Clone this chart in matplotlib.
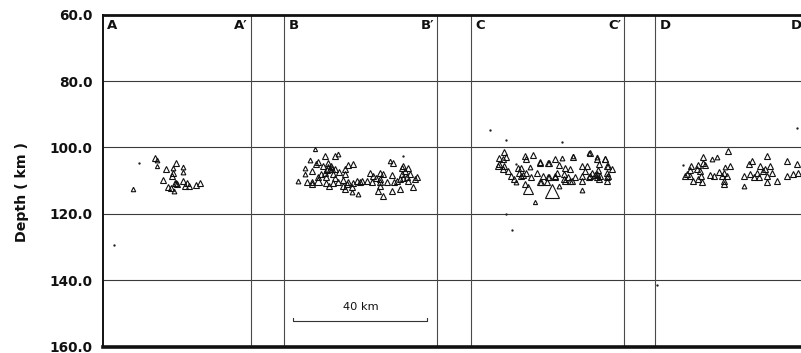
import numpy as np
import matplotlib
matplotlib.use("Agg")
import matplotlib.pyplot as plt

# ---- hypocentres per cross-section: distance along profile (km), depth (km), magnitude
# magnitude < 1 marks events plotted as plain dots
a_dist = [15.5, 16.0, 10.7, 21.7, 16.0, 18.7, 21.0, 23.8, 20.8, 24.0, 20.7, 18.0,
          21.8, 21.5, 22.2, 24.0, 25.0, 24.5, 25.8, 27.8, 29.0, 19.5, 20.2, 21.3,
          9.0, 3.3]
a_depth = [103.1, 103.8, 104.6, 104.6, 105.6, 106.6, 106.3, 105.9, 107.6, 107.3, 108.7, 109.8,
           110.8, 110.6, 111.0, 110.2, 110.8, 111.6, 111.6, 111.3, 110.8, 111.9, 112.2, 113.2,
           112.5, 129.5]
a_mag = [1.8, 1.5, 0.5, 1.6, 1.3, 1.7, 1.5, 1.5, 1.6, 1.5, 1.6, 1.7,
         1.9, 1.7, 1.6, 1.7, 1.6, 1.6, 1.7, 1.7, 1.6, 1.6, 1.7, 1.5,
         1.4, 0.5]

b_dist = [9.3, 12.4, 15.2, 16.2, 7.8, 10.2, 13.2, 9.5, 11.7, 13.2, 13.6, 12.8, 14.2, 15.2,
          19.2, 20.7, 18.2, 6.3, 8.3, 12.2, 14.7, 18.2, 6.3, 10.2, 12.7, 15.2, 17.7,
          4.3, 6.8, 8.3, 10.2, 12.7, 14.7, 16.2, 19.2, 20.7, 21.7, 23.2, 13.4, 17.7,
          20.2, 18.2, 20.2, 8.3, 18.7, 22.2, 29.6, 32.1, 34.6, 38.6, 39.1, 36.6, 33.6,
          28.7, 25.7, 35.6, 31.6, 32.6, 35.6, 35.1, 37.1, 28.7, 29.6, 26.7, 32.1, 35.1,
          37.6, 39.6, 24.7, 26.2, 28.7, 34.6, 35.6, 37.1, 30.8, 32.8, 22.7, 28.7, 28.2,
          14.0, 16.5, 11.0, 27.4, 36.0]
b_depth = [100.6, 102.6, 102.6, 102.1, 103.8, 104.4, 104.6, 105.1, 105.6, 106.1, 106.5, 106.8,
           106.4, 106.6, 105.4, 105.1, 106.4, 106.1, 107.1, 107.6, 108.1, 108.1, 108.1, 109.0,
           109.0, 109.3, 109.8, 110.1, 110.5, 110.5, 110.1, 110.7, 110.7, 110.4, 110.4, 110.7,
           110.1, 110.1, 111.6, 111.6, 112.0, 112.5, 113.5, 111.0, 111.0, 114.0, 114.5, 113.0,
           112.5, 112.0, 109.6, 109.0, 110.1, 110.5, 107.6, 102.6, 104.1, 104.6, 105.6, 106.1,
           106.1, 107.6, 108.1, 108.6, 108.4, 108.1, 108.1, 109.0, 110.1, 110.4, 109.6, 109.6,
           109.3, 110.1, 110.5, 110.5, 110.5, 111.6, 113.0, 105.5, 107.3, 108.0, 109.3, 107.0]
b_mag = [1.3, 1.6, 1.6, 1.5, 1.5, 1.7, 1.8, 1.6, 1.7, 2.2, 2.0, 1.9,
         1.8, 1.7, 1.7, 1.6, 1.7, 1.5, 1.6, 1.7, 1.8, 1.6, 1.5, 1.7,
         1.8, 1.7, 1.6, 1.5, 1.7, 1.6, 2.4, 1.7, 1.8, 1.7, 1.7, 1.8,
         1.6, 1.6, 1.7, 1.6, 1.6, 1.6, 1.5, 1.7, 1.6, 1.5, 1.6, 1.7,
         1.7, 1.6, 1.8, 1.7, 1.8, 1.7, 1.6, 0.5, 1.4, 1.6, 1.9, 1.8,
         1.7, 1.6, 1.7, 1.6, 1.8, 1.7, 1.6, 1.7, 1.6, 1.7, 1.8, 1.8,
         1.9, 1.7, 1.7, 1.6, 1.7, 1.6, 1.6, 1.9, 1.8, 1.7, 1.8, 1.7]

c_dist = [5.5, 10.4, 10.4, 12.1, 27.1,
          9.9, 8.4, 9.5, 10.4, 15.9, 16.4, 18.4, 20.4, 22.9, 8.4, 8.0, 9.9, 9.5,
          13.4, 13.9, 14.9, 17.4, 11.0, 14.4, 16.4, 14.9, 15.3, 11.9, 12.9, 17.9,
          21.4, 22.9, 13.4, 15.9, 20.9, 16.9, 24.1, 18.9, 25.1, 27.1, 30.5, 35.0,
          37.5, 40.0, 23.1, 26.1, 28.1, 29.6, 33.0, 34.5, 38.0, 40.5, 42.0, 25.6,
          27.6, 34.0, 36.0, 37.9, 40.5, 23.1, 25.1, 29.0, 31.0, 33.0, 35.0, 35.4,
          37.0, 37.4, 38.4, 40.4, 28.1, 30.1, 33.0, 38.0, 40.4, 26.1, 33.0, 30.5,
          35.5, 40.0, 37.5, 40.9, 20.6, 20.6, 22.6, 25.1, 27.6, 29.6, 37.5, 40.9, 19.5]
c_depth = [94.9, 97.9, 120.0, 124.8, 98.4,
           101.3, 103.1, 103.6, 102.9, 102.6, 103.6, 102.3, 104.3, 104.6, 105.1, 105.6, 105.6, 106.6,
           105.1, 106.1, 106.1, 105.9, 107.1, 107.6, 107.6, 108.6, 108.2, 108.6, 109.6, 109.0,
           108.6, 109.0, 110.5, 111.0, 110.5, 112.5, 113.0, 116.5, 103.6, 103.3, 102.9, 101.6,
           102.9, 103.6, 104.6, 105.3, 106.1, 106.6, 105.6, 105.6, 105.1, 105.6, 106.6, 107.6,
           108.1, 107.1, 107.6, 106.9, 107.6, 109.0, 108.6, 109.0, 109.0, 108.6, 108.9, 108.5,
           108.3, 108.0, 108.6, 109.0, 110.1, 110.2, 110.1, 109.6, 110.1, 111.6, 112.8, 102.6,
           101.8, 103.4, 103.6, 105.6, 104.6, 110.5, 110.5, 109.0, 109.6, 110.1, 109.0, 108.6, 107.8]
c_mag = [0.5, 0.6, 0.5, 0.5, 0.5,
         1.6, 1.8, 1.7, 1.6, 2.0, 1.8, 1.6, 1.6, 1.7, 1.9, 1.8, 1.7, 1.8,
         0.5, 1.8, 1.6, 1.5, 1.7, 1.8, 1.7, 2.0, 1.9, 1.7, 1.8, 1.6,
         1.7, 1.6, 1.5, 1.6, 1.6, 2.6, 3.2, 1.3, 1.6, 1.5, 1.7, 1.5,
         1.5, 1.7, 1.6, 1.7, 1.6, 1.8, 1.7, 1.7, 1.8, 1.7, 1.6, 1.7,
         1.8, 1.8, 1.7, 1.8, 1.7, 1.6, 1.7, 1.7, 1.8, 1.7, 1.9, 1.9,
         1.9, 1.8, 1.8, 1.7, 1.7, 1.7, 1.6, 1.7, 1.6, 1.5, 1.5, 1.4,
         1.6, 1.6, 1.7, 1.6, 1.6, 1.7, 1.6, 1.7, 1.7, 1.6, 1.7, 1.7, 1.6]

d_dist = [21.7, 14.4, 16.9, 18.4, 8.4, 10.7, 12.9, 14.4, 14.9, 20.9, 10.4, 12.4, 13.4,
          18.9, 20.4, 9.5, 9.0, 10.4, 13.7, 16.4, 17.4, 19.9, 21.4, 11.4, 12.9, 13.9,
          20.4, 20.4, 33.3, 39.3, 22.4, 27.9, 28.9, 31.3, 34.3, 32.8, 42.3, 26.4, 28.4,
          30.4, 32.3, 33.3, 36.3, 39.3, 41.0, 42.5, 33.3, 26.4, 29.5, 31.0, 35.0, 42.3, 0.5]
d_depth = [101.1, 102.8, 103.4, 102.8, 105.4, 105.6, 105.4, 104.8, 105.4, 105.8, 106.8, 106.4,
           107.1, 107.4, 107.6, 108.1, 108.7, 108.6, 108.6, 108.4, 108.7, 108.6, 108.6, 110.1,
           109.6, 110.4, 110.1, 111.0, 102.6, 104.1, 105.6, 105.1, 104.1, 105.6, 105.6, 106.6,
           105.1, 108.6, 108.1, 107.6, 107.1, 108.6, 110.1, 108.6, 108.1, 107.6, 110.5, 111.6,
           109.0, 108.9, 107.8, 94.1, 141.4]
d_mag = [1.6, 1.6, 1.5, 1.5, 0.5, 1.6, 1.7, 1.8, 1.6, 1.5, 1.7, 1.7, 1.8,
         1.7, 1.6, 1.6, 2.1, 1.7, 1.9, 1.8, 1.9, 1.7, 1.7, 1.6, 1.7, 1.6,
         1.7, 1.6, 1.6, 1.6, 1.7, 1.7, 1.6, 1.7, 1.7, 1.8, 1.7, 1.7, 1.8,
         1.8, 1.7, 1.8, 1.6, 1.7, 1.8, 1.7, 1.6, 1.5, 1.7, 1.7, 1.7, 0.5, 0.6]

section_names = ["A", "B", "C", "D"]
depth_ticks = [60.0, 80.0, 100.0, 120.0, 140.0, 160.0]
scale_length_km = 40

# ---- layout of the strip: left edge of each section and its width (km)
section_start = [0.0, 54.0, 109.9, 164.8]
section_width = [44.2, 45.7, 45.6, 45.6]
x_max = 210.4

W, H = 801, 353
fig = plt.figure(figsize=(W / 100, H / 100), dpi=100)
ax = fig.add_axes([103 / W, 6.5 / H, 705 / W, 331.8 / H])
ax.set_xlim(0, x_max)
ax.set_ylim(160, 60)

bold = dict(family="DejaVu Sans", weight="bold")

# depth grid
for d in depth_ticks[1:-1]:
    ax.axhline(d, color="#3a3a3a", lw=0.8, zorder=1)

# section borders
for s, w in zip(section_start, section_width):
    for x in (s, s + w):
        if 0 < x < x_max:
            ax.axvline(x, color="#4a4a4a", lw=0.8, zorder=1)


def marker_size(m):
    return 3.4 * 1.85 ** (m - 1.5)


sections = [(a_dist, a_depth, a_mag), (b_dist, b_depth, b_mag),
            (c_dist, c_depth, c_mag), (d_dist, d_depth, d_mag)]

for name, s, w, (dist, depth, mag) in zip(section_names, section_start,
                                          section_width, sections):
    dist = np.asarray(dist)
    depth = np.asarray(depth)
    mag = np.asarray(mag)
    x = s + dist
    for xi, di, mi in zip(x, depth, mag):
        if mi < 1:
            ax.plot(xi, di, marker="o", ms=1.7, color="#222222", mec="none",
                    zorder=3, clip_on=False)
        else:
            ax.plot(xi, di, marker="^", ms=marker_size(mi), mfc="none",
                    mec="#111111", mew=0.8, zorder=3)
    ax.text(s + 1.3, 63.4, name, ha="left", va="center", fontsize=9.5,
            color="#111111", **bold)
    ax.text(s + w - 0.9, 63.4, name + "\u2032", ha="right", va="center",
            fontsize=9.5, color="#111111", **bold)

# 40 km scale bar in section B
bar_x0 = 56.8
bar_y = 152.3
ax.plot([bar_x0, bar_x0, bar_x0 + scale_length_km, bar_x0 + scale_length_km],
        [bar_y - 0.9, bar_y, bar_y, bar_y - 0.9], color="#333333", lw=0.8)
ax.text(bar_x0 + scale_length_km / 2, 148.0, f"{scale_length_km} km",
        ha="center", va="center", fontsize=8.2, color="#111111")

# axes frame
ax.spines["right"].set_visible(False)
ax.spines["top"].set_linewidth(2.0)
ax.spines["bottom"].set_linewidth(2.6)
ax.spines["left"].set_linewidth(1.4)
for sp in ax.spines.values():
    sp.set_color("#111111")

ax.set_xticks([])
ax.set_yticks(depth_ticks)
ax.set_yticklabels([f"{t:.1f}" for t in depth_ticks])
ax.tick_params(axis="y", length=0, pad=7.5)
for lbl in ax.get_yticklabels():
    lbl.set_fontfamily("DejaVu Sans")
    lbl.set_fontweight("bold")
    lbl.set_fontsize(9.8)
    lbl.set_color("#111111")

fig.text(22 / W, 1 - 192 / H, "Depth ( km )", rotation=90, ha="center",
         va="center", fontsize=10.2, color="#111111", **bold)

fig.savefig("out.png", dpi=100, facecolor="white")
